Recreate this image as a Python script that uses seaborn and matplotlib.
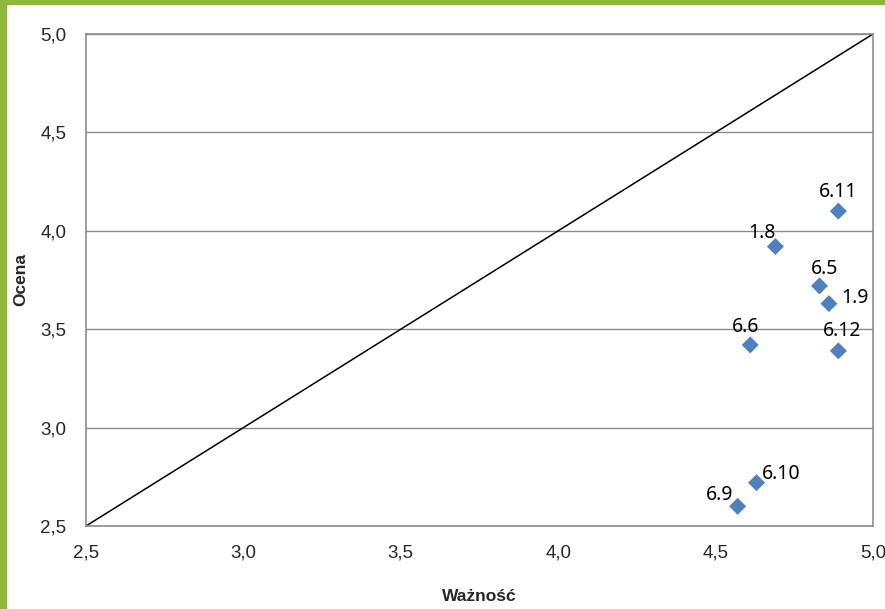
import matplotlib.pyplot as plt
import matplotlib.patches as mpatches
import seaborn as sns
import pandas as pd

labels = ['6.11', '1.8', '6.5', '1.9', '6.6', '6.12', '6.10', '6.9']
waznosc = [4.89, 4.69, 4.83, 4.86, 4.61, 4.89, 4.63, 4.57]
ocena = [4.10, 3.92, 3.72, 3.63, 3.42, 3.39, 2.72, 2.60]
ticks = [2.5, 3.0, 3.5, 4.0, 4.5, 5.0]
tick_labels = ['2,5', '3,0', '3,5', '4,0', '4,5', '5,0']

# label offsets (points) relative to marker
offsets = {'6.11': (0, 14), '1.8': (-10, 10), '6.5': (4, 12), '1.9': (19, 4),
           '6.6': (-3, 13), '6.12': (3, 14), '6.10': (18, 6), '6.9': (-13, 8)}

df = pd.DataFrame({'label': labels, 'Ważność': waznosc, 'Ocena': ocena})

sns.set_style('white')
plt.rcParams['font.family'] = ['Liberation Sans', 'DejaVu Sans']

fig = plt.figure(figsize=(8.85, 6.09), dpi=100)
ax = fig.add_axes([86 / 885, 1 - 526 / 609, (873 - 86) / 885, (526 - 34) / 609])

ax.plot([2.5, 5.0], [2.5, 5.0], color='black', lw=1.1, zorder=2)
sns.scatterplot(data=df, x='Ważność', y='Ocena', marker='D', s=75,
                color='#4F81BD', edgecolor='none', ax=ax, zorder=3)

for lab, x, y in zip(labels, waznosc, ocena):
    ax.annotate(lab, (x, y), xytext=offsets[lab], textcoords='offset points',
                ha='center', va='center', fontsize=14,
                family=['Noto Sans', 'DejaVu Sans'], color='black', zorder=4)

ax.set_xlim(2.5, 5.0)
ax.set_ylim(2.5, 5.0)
ax.set_xticks(ticks)
ax.set_xticklabels(tick_labels)
ax.set_yticks(ticks)
ax.set_yticklabels(tick_labels)
ax.tick_params(axis='both', length=0, labelsize=13.5)
ax.tick_params(axis='x', pad=13)
ax.tick_params(axis='y', pad=14)
ax.yaxis.grid(True, color='#8c8c8c', lw=1)
ax.xaxis.grid(False)
for sp in ax.spines.values():
    sp.set_color('#8c8c8c')
    sp.set_linewidth(1.2)

ax.set_xlabel('Ważność', fontsize=12.5, fontweight='bold', labelpad=20)
ax.set_ylabel('Ocena', fontsize=12.5, fontweight='bold', labelpad=9)

# green page border
green = '#8DB83A'
fig.patches.append(mpatches.Rectangle((0, 0), 6 / 885, 1, transform=fig.transFigure,
                                      color=green, zorder=0))
fig.patches.append(mpatches.Rectangle((0, 1 - 4 / 609), 1, 4 / 609, transform=fig.transFigure,
                                      color=green, zorder=0))

fig.savefig('out.png', dpi=100)
